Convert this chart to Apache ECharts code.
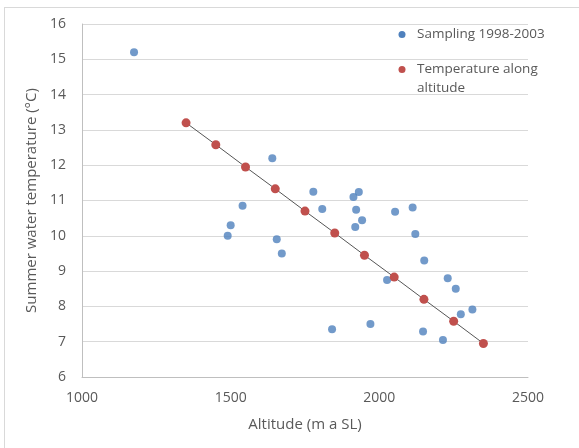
<!DOCTYPE html>
<html>
<head>
<meta charset="utf-8">
<script src="https://cdn.jsdelivr.net/npm/echarts@6/dist/echarts.min.js"></script>
<style>
  html, body { margin: 0; padding: 0; background: #fff; }
  #frame { position: absolute; left: 4px; top: 7px; width: 590px; height: 460px; border: 1px solid #d9d9d9; box-sizing: border-box; }
  #chart { width: 579px; height: 448px; position: absolute; left: 0; top: 0; }
</style>
</head>
<body>
<div id="frame"></div>
<div id="chart"></div>
<script>
// Field samples: altitude (m a SL) and summer water temperature (°C)
const sampleAltitude = [1175, 1640, 1540, 1500, 1490, 1655, 1672, 1778, 1808,
  1931, 1913, 1922, 1942, 1919, 2053, 2112, 2121, 2151, 2026, 2230, 2257,
  2313, 2274, 1841, 1970, 2147, 2214];
const sampleTemp = [15.2, 12.2, 10.85, 10.3, 10.0, 9.9, 9.5, 11.25, 10.76,
  11.24, 11.1, 10.74, 10.44, 10.25, 10.68, 10.8, 10.05, 9.3, 8.75, 8.8, 8.5,
  7.91, 7.78, 7.35, 7.5, 7.29, 7.05];

// Temperature along altitude (lapse line)
const lineAltitude = [1350, 1450, 1550, 1650, 1750, 1850, 1950, 2050, 2150, 2250, 2350];
const lineTemp = [13.2, 12.58, 11.95, 11.33, 10.7, 10.08, 9.45, 8.83, 8.2, 7.58, 6.95];

const seriesNames = ['Sampling 1998-2003', 'Temperature along altitude'];
const xTitle = 'Altitude (m a SL)';
const yTitle = 'Summer water temperature (°C)';

const font = '"Open Sans", sans-serif';
const grey = '#595959';
const blue = '#4f81bd';
const red = '#c0504d';

// Legend drawn as graphic so the marker sits beside the first text line
function legendEntry(y, color, lines) {
  const els = [{
    type: 'circle', shape: { cx: 402, cy: y, r: 3.5 }, style: { fill: color }
  }];
  lines.forEach(function (t, i) {
    els.push({
      type: 'text', x: 417, y: y + i * 19,
      style: { text: t, fill: grey, font: '13.5px ' + font, verticalAlign: 'middle', align: 'left' }
    });
  });
  return els;
}

const chart = echarts.init(document.getElementById('chart'), null, { renderer: 'canvas' });
chart.setOption({
  backgroundColor: 'transparent',
  animation: false,
  textStyle: { fontFamily: font, color: grey },
  grid: { left: 82, right: 51, top: 24, bottom: 71 },
  graphic: [].concat(
    legendEntry(34.5, blue, [seriesNames[0]]),
    legendEntry(69.5, red, ['Temperature along', 'altitude'])
  ),
  xAxis: {
    type: 'value', min: 1000, max: 2500, interval: 500,
    name: xTitle, nameLocation: 'middle', nameGap: 40,
    nameTextStyle: { fontFamily: font, fontSize: 15, color: grey },
    axisLine: { show: true, lineStyle: { color: '#bfbfbf' } },
    axisTick: { show: false },
    splitLine: { show: false },
    axisLabel: { fontFamily: font, fontSize: 14, color: grey, margin: 14, formatter: function (v) { return String(v); } }
  },
  yAxis: {
    type: 'value', min: 6, max: 16, interval: 1,
    name: yTitle, nameLocation: 'middle', nameGap: 39,
    nameTextStyle: { fontFamily: font, fontSize: 15, color: grey },
    axisLine: { show: true, lineStyle: { color: '#bfbfbf' } },
    axisTick: { show: false },
    splitLine: { show: true, lineStyle: { color: '#d9d9d9' } },
    axisLabel: { fontFamily: font, fontSize: 14, color: grey, margin: 16 }
  },
  series: [
    {
      name: seriesNames[0],
      type: 'scatter',
      symbol: 'circle',
      symbolSize: 8,
      itemStyle: { color: blue },
      data: sampleAltitude.map(function (a, i) { return [a, sampleTemp[i]]; })
    },
    {
      name: seriesNames[1],
      type: 'line',
      symbol: 'circle',
      symbolSize: 9,
      showSymbol: true,
      lineStyle: { color: '#555555', width: 1 },
      itemStyle: { color: red },
      data: lineAltitude.map(function (a, i) { return [a, lineTemp[i]]; })
    }
  ]
});
</script>
</body>
</html>
